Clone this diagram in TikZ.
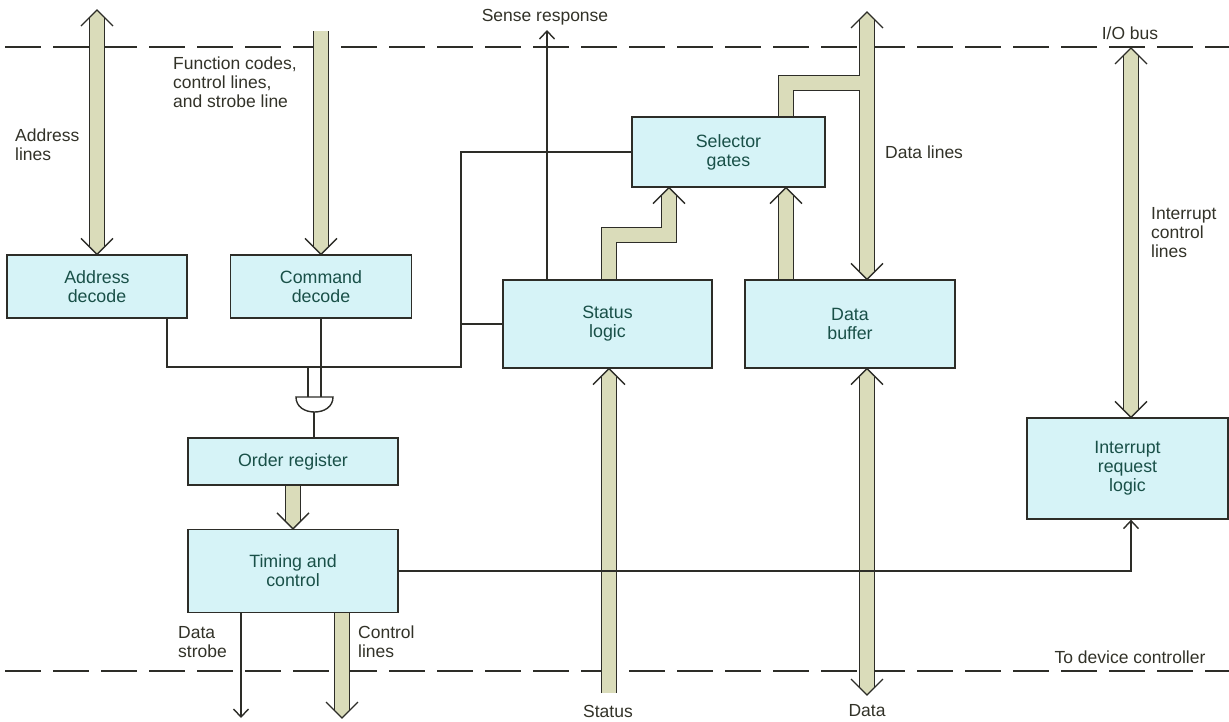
\documentclass[tikz,border=0pt]{standalone}
\usepackage{fontspec}
\setmainfont{Liberation Sans}
\usetikzlibrary{arrows.meta,calc}
\definecolor{boxfill}{RGB}{214,243,247}
\definecolor{busfill}{RGB}{218,220,186}
\definecolor{edge}{RGB}{45,45,40}
\definecolor{boxtext}{RGB}{25,80,72}
\definecolor{labtext}{RGB}{50,50,40}
\pgfdeclarelayer{background}
\pgfsetlayers{background,main}
\tikzset{
  blk/.style={draw=edge, fill=boxfill, line width=1.3pt, text=boxtext, align=center, inner sep=0pt, font=\fontsize{17.8}{19}\selectfont},
  lab/.style={text=labtext, align=left, inner sep=0pt, font=\fontsize{17.5}{19}\selectfont},
  wire/.style={draw=edge, line width=1.4pt},
  sig/.style={wire, -{Straight Barb[length=8pt,width=15pt]}},
  busout/.style={line width=16pt, draw=edge, line join=miter},
  busin/.style={line width=13.4pt, draw=busfill, line join=miter},
  dashline/.style={draw=edge, line width=1.5pt, dash pattern=on 36pt off 12pt},
  tipup/.pic={\fill[busfill] (-6.7,6.7) -- (0,0) -- (6.7,6.7) -- (6.7,8.6) -- (-6.7,8.6) -- cycle;
              \draw[edge, line width=1.3pt, line join=miter] (-16,16) -- (0,0) -- (16,16);},
  tipdown/.pic={\fill[busfill] (-6.7,-6.7) -- (0,0) -- (6.7,-6.7) -- (6.7,-8.6) -- (-6.7,-8.6) -- cycle;
              \draw[edge, line width=1.3pt, line join=miter] (-16,-16) -- (0,0) -- (16,-16);},
}
\newcommand\drawbusset[1]{%
 \draw[#1] ([yshift=-8pt]addrTop) -- ([yshift=8pt]addr.north);
 \draw[#1] (cmdTop) -- ([yshift=8pt]cmd.north);
 \draw[#1] (ord.south) -- ([yshift=8pt]tim.north);
 \draw[#1] (ctlStart) -- ([yshift=8pt]ctlEnd);
 \draw[#1] (statusEnd) -- ([yshift=-8pt]statIn);
 \draw[#1] (statOut) -- (jogA) -- (jogB) -- ([yshift=-8pt]selIn1);
 \draw[#1] (dbufOut) -- ([yshift=-8pt]selIn2);
 \draw[#1] ([yshift=-8pt]dataTop) -- ([yshift=8pt]dbufIn);
 \draw[#1] (selOut) -- (brA) -- (brB);
 \draw[#1] ([yshift=8pt]dataEnd) -- ([yshift=-8pt]dbufIO);
 \draw[#1] ([yshift=-8pt]irqTop) -- ([yshift=8pt]irqIn);
}
\begin{document}
\begin{tikzpicture}[x=1pt,y=-1pt]
\useasboundingbox (0,0) rectangle (1229,721);

% blocks
\node[blk, minimum width=180pt, minimum height=63pt] (addr) at (97,286.5) {Address\\decode};
\node[blk, minimum width=181pt, minimum height=63pt] (cmd) at (321,286.5) {Command\\decode};
\node[blk, minimum width=193pt, minimum height=70pt] (sel) at (728.5,152) {Selector\\gates};
\node[blk, minimum width=209pt, minimum height=88pt] (stat) at (607.5,324) {Status\\logic};
\node[blk, minimum width=210pt, minimum height=88pt] (dbuf) at (850,324) {Data\\buffer};
\node[blk, minimum width=210pt, minimum height=47pt] (ord) at (293,461.5) {Order register};
\node[blk, minimum width=210pt, minimum height=83pt] (tim) at (293,571) {Timing and\\control};
\node[blk, minimum width=201pt, minimum height=101pt] (irq) at (1127.5,468.5) {Interrupt\\request\\logic};

% coordinates
\coordinate (addrTop) at (97,10);
\coordinate (cmdTop) at (321,31);
\coordinate (senseTop) at (547,30);
\coordinate (dataTop) at (867,12);
\coordinate (irqTop) at (1131,48);
\coordinate (strobeEnd) at (241,718);
\coordinate (ctlEnd) at (342,718);
\coordinate (statusEnd) at (609,693);
\coordinate (dataEnd) at (867,695);
\coordinate (jogA) at (609,235);
\coordinate (jogB) at (669,235);
\coordinate (brA) at (786,83);
\coordinate (brB) at (867,83);
\coordinate (j1) at (167,367);
\coordinate (j2) at (461,367);
\coordinate (gin1) at (308,397);
\coordinate (gin2) at (321,397);
\coordinate (gout) at (314,412);
\coordinate (statIn) at (stat.south -| statusEnd);
\coordinate (statOut) at (stat.north -| jogA);
\coordinate (selIn1) at (sel.south -| jogB);
\coordinate (selIn2) at (sel.south -| brA);
\coordinate (dbufOut) at (dbuf.north -| brA);
\coordinate (selOut) at (sel.north -| brA);
\coordinate (dbufIn) at (dbuf.north -| dataTop);
\coordinate (dbufIO) at (dbuf.south -| dataEnd);
\coordinate (irqIn) at (irq.north -| irqTop);
\coordinate (irqReq) at (irq.south -| irqTop);
\coordinate (ctlStart) at (tim.south -| ctlEnd);
\coordinate (senseStart) at (stat.north -| senseTop);
\coordinate (strobeStart) at (tim.south -| strobeEnd);
\coordinate (busL) at (5,47);
\coordinate (busR) at (1229,47);
\coordinate (devL) at (5,671);
\coordinate (devR) at (1229,671);

\begin{pgfonlayer}{background}
  \draw[dashline] (busL) -- (busR);
  \draw[dashline] (devL) -- (devR);
  \drawbusset{busout}
  \drawbusset{busin}
  \pic at (addrTop) {tipup};
  \pic at (addr.north) {tipdown};
  \pic at (cmd.north) {tipdown};
  \pic at (tim.north) {tipdown};
  \pic at (ctlEnd) {tipdown};
  \pic at (statIn) {tipup};
  \pic at (selIn1) {tipup};
  \pic at (selIn2) {tipup};
  \pic at (dataTop) {tipup};
  \pic at (dbufIn) {tipdown};
  \pic at (dataEnd) {tipdown};
  \pic at (dbufIO) {tipup};
  \pic at (irqTop) {tipup};
  \pic at (irqIn) {tipdown};
\end{pgfonlayer}

% thin wires
\draw[wire] (addr.south -| j1) -- (j1) -- (j2) |- (sel.west);
\draw[wire] (j2 |- stat.west) -- (stat.west);
\draw[wire] (cmd.south) -- (gin2);
\draw[wire] (gin1 |- j1) -- (gin1);
\draw[wire] (gout) -- (ord.north -| gout);
\draw[wire, fill=white] (296,397) -- (333,397) .. controls (333,407) and (324,412) .. (314.5,412) .. controls (305,412) and (296,407) .. (296,397) -- cycle;
\draw[sig] (senseStart) -- (senseTop);
\draw[sig] (tim.east) -| (irqReq);
\draw[sig] (strobeStart) -- (strobeEnd);

% labels
\node[lab, anchor=west] (lAddr) at (15,145) {Address\\lines};
\node[lab, anchor=west] (lFunc) at (173,82) {Function codes,\\control lines,\\and strobe line};
\node[lab] (lSense) at (545,17) {Sense response};
\node[lab, anchor=west] (lDataLines) at (885,152) {Data lines};
\node[lab] (lIO) at (1130,33) {I/O bus};
\node[lab, anchor=west] (lInt) at (1151,233) {Interrupt\\control\\lines};
\node[lab, anchor=west] (lStrobe) at (178,642) {Data\\strobe};
\node[lab, anchor=west] (lCtl) at (358,642) {Control\\lines};
\node[lab] (lDev) at (1130,657) {To device controller};
\node[lab] (lStatus) at (608,711) {Status};
\node[lab] (lData) at (867,711) {Data};
\end{tikzpicture}
\end{document}
